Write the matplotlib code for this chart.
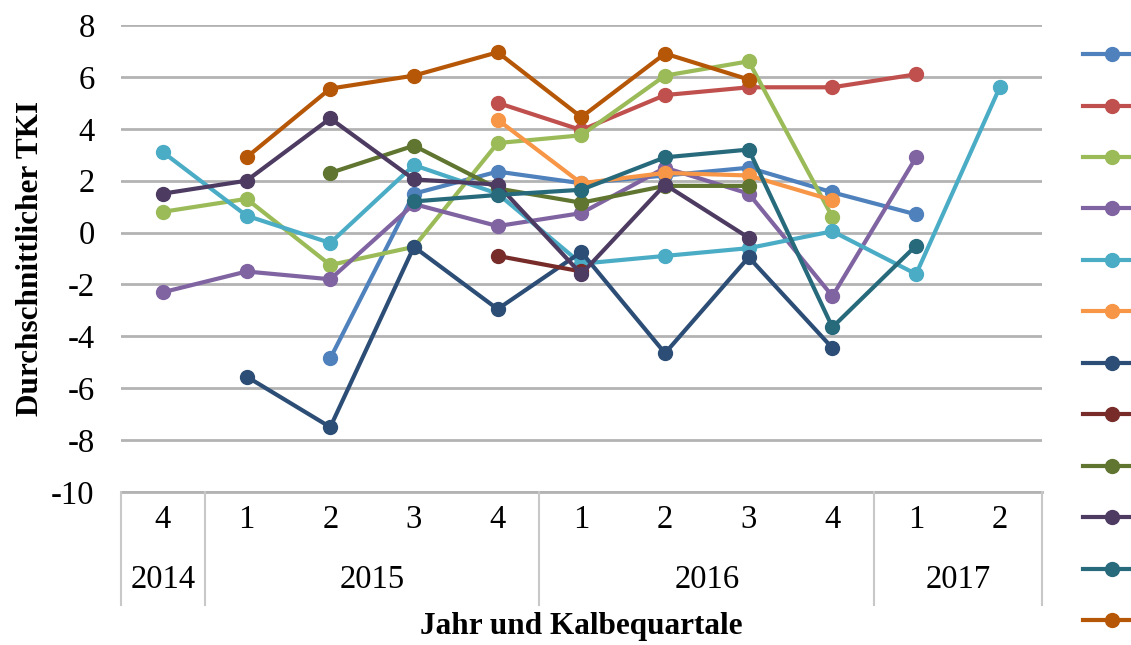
import numpy as np
import matplotlib
matplotlib.use('Agg')
import matplotlib.pyplot as plt
from matplotlib.lines import Line2D

nan = np.nan

# Kalbequartale and years below the axis
quarters = ['4', '1', '2', '3', '4', '1', '2', '3', '4', '1', '2']
years = ['2014', '2015', '2016', '2017']
year_spans = [1, 4, 4, 2]

# Durchschnittlicher TKI per group, one list per line (nan = no value)
s1 = [nan, nan, -4.85, 1.5, 2.35, 1.9, 2.2, 2.5, 1.55, 0.7, nan]
s2 = [nan, nan, nan, nan, 5.0, 3.95, 5.3, 5.6, 5.6, 6.1, nan]
s3 = [0.8, 1.3, -1.25, -0.55, 3.45, 3.75, 6.05, 6.6, 0.6, nan, nan]
s4 = [-2.3, -1.5, -1.8, 1.1, 0.25, 0.75, 2.5, 1.5, -2.45, 2.9, nan]
s5 = [3.1, 0.65, -0.4, 2.6, 1.5, -1.2, -0.9, -0.6, 0.05, -1.6, 5.6]
s6 = [nan, nan, nan, nan, 4.35, 1.9, 2.3, 2.2, 1.25, nan, nan]
s7 = [nan, -5.55, -7.5, -0.55, -2.95, -0.75, -4.65, -0.95, -4.45, nan, nan]
s8 = [nan, nan, nan, nan, -0.9, -1.5, nan, nan, nan, nan, nan]
s9 = [nan, nan, 2.3, 3.35, 1.7, 1.15, 1.8, 1.8, nan, nan, nan]
s10 = [1.5, 2.0, 4.4, 2.05, 1.85, -1.6, 1.85, -0.2, nan, nan, nan]
s11 = [nan, nan, nan, 1.2, 1.45, 1.65, 2.9, 3.2, -3.65, -0.5, nan]
s12 = [nan, 2.9, 5.55, 6.05, 6.95, 4.45, 6.9, 5.9, nan, nan, nan]

series = [s1, s2, s3, s4, s5, s6, s7, s8, s9, s10, s11, s12]
colors = ['#4F81BD', '#C0504D', '#9BBB59', '#8064A2', '#4BACC6', '#F79646',
          '#2C4D75', '#772C2A', '#5F7530', '#4D3B62', '#276A7C', '#B65708']

plt.rcParams['font.family'] = ['Liberation Serif', 'DejaVu Serif']
plt.rcParams['axes.unicode_minus'] = False

fig = plt.figure(figsize=(11.31, 6.45), dpi=100)
ax = fig.add_axes([0.107, 0.2372, 0.814, 0.724])

x = np.arange(len(quarters))
handles = []
for vals, c in zip(series, colors):
    y = np.array(vals, dtype=float)
    # gaps (nan) stay gaps, like in the Excel chart
    ax.plot(x, y, color=c, lw=3, marker='o', ms=10, solid_capstyle='round')
    handles.append(Line2D([], [], color=c, lw=3, marker='o', ms=10))

ax.set_xlim(-0.5, len(quarters) - 0.5)
ax.set_ylim(-10, 8)
ax.set_yticks(np.arange(-10, 9, 2))
ax.yaxis.grid(True, color='#B3B3B3', lw=2)
ax.set_axisbelow(True)
for side in ['left', 'right', 'top', 'bottom']:
    ax.spines[side].set_visible(False)
ax.tick_params(axis='y', length=0, pad=19, labelsize=23.5)

# category table under the plot
ax.set_xticks(x)
ax.set_xticklabels(quarters, fontsize=23.5)
ax.tick_params(axis='x', length=0, pad=9)
trans = ax.get_xaxis_transform()
ax.plot([-0.5, len(quarters) - 0.5], [0, 0], transform=trans, color='#B3B3B3', lw=2, clip_on=False)
start = -0.5
bounds = [start]
for yr, span in zip(years, year_spans):
    ax.text(start + span / 2, -0.188, yr, transform=trans, ha='center', va='center', fontsize=23.5)
    start += span
    bounds.append(start)
for b in bounds:
    ax.plot([b, b], [0, -0.242], transform=trans, color='#C8C8C8', lw=1.5, clip_on=False)

ax.set_ylabel('Durchschnittlicher TKI', fontsize=22.5, fontweight='bold')
ax.yaxis.set_label_coords(-0.0825, 0.5)
ax.set_xlabel('Jahr und Kalbequartale', fontsize=22.5, fontweight='bold')
ax.xaxis.set_label_coords(0.5, -0.258)

fig.legend(handles, [''] * len(handles), loc='upper left',
           bbox_to_anchor=(0.95, 0.942), frameon=False, handlelength=2.6,
           labelspacing=1.39, fontsize=16, borderaxespad=0)

fig.savefig('out.png', dpi=100)
plt.close()
